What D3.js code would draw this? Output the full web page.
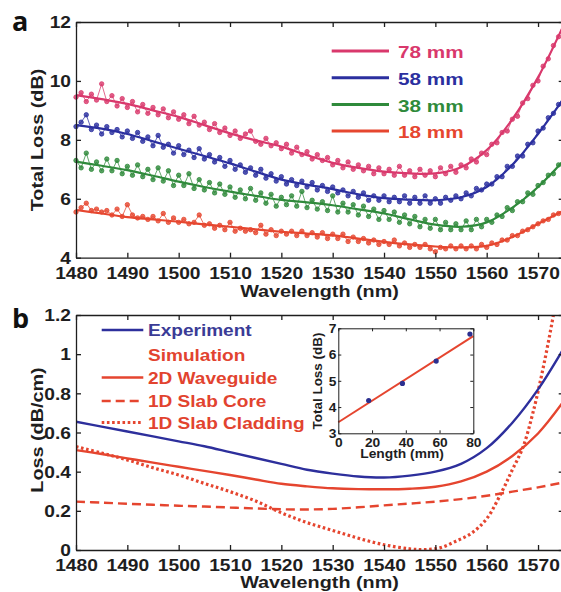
<!DOCTYPE html>
<html>
<head>
<meta charset="utf-8">
<script src="https://cdn.jsdelivr.net/npm/d3@7"></script>
<style>
  html, body { margin: 0; padding: 0; background: #fff; }
  svg { display: block; }
</style>
</head>
<body>
<svg id="fig" width="561" height="592"></svg>
<script>
// ---------- panel a: measured total loss spectra (1 nm steps, 1480-1575 nm) ----------
const wavelengths = d3.range(1480, 1576, 1);
const seriesNames = ["78 mm", "58 mm", "38 mm", "18 mm"];
const seriesColors = ["#d9386c", "#2b2f9f", "#2f8a3b", "#e6462f"];

const loss78 = [
  9.45, 9.6, 9.3, 9.55, 9.35, 9.9, 9.3, 9.5, 9.15, 9.4,
  9.1, 9.3, 8.95, 9.2, 8.9, 9.1, 8.85, 9.05, 8.75, 8.95,
  8.7, 8.85, 8.55, 8.8, 8.5, 8.6, 8.35, 8.55, 8.25, 8.4,
  8.15, 8.3, 8.05, 8.2, 8.3, 7.95, 7.85, 8.05, 7.8, 7.9,
  7.7, 7.85, 7.55, 7.75, 7.5, 7.6, 7.35, 7.5, 7.3, 7.4,
  7.15, 7.3, 7.05, 7.25, 7.0, 7.15, 6.95, 7.1, 6.85, 7.05,
  6.85, 7.0, 6.8, 7.1, 6.8, 6.95, 6.75, 7.0, 6.8, 6.95,
  6.75, 7.05, 6.85, 7.1, 6.9, 7.15, 7.05, 7.35, 7.25, 7.55,
  7.5, 7.85, 7.9, 8.25, 8.3, 8.7, 8.8, 9.25, 9.4, 9.85,
  10.0, 10.5, 10.75, 11.2, 11.5, 11.95
];
const loss58 = [
  8.45, 8.6, 8.85, 8.35, 8.5, 8.2, 8.45, 8.25, 8.35, 8.1,
  8.3, 8.05, 8.25, 7.95, 8.1, 7.8, 8.15, 7.75, 7.85, 7.55,
  7.8, 7.5, 7.65, 7.4, 7.7, 7.35, 7.5, 7.25, 7.4, 7.1,
  7.3, 7.0, 7.15, 6.9, 7.05, 6.8, 7.0, 6.7, 6.85, 6.6,
  6.75, 6.5, 6.65, 6.45, 6.6, 6.4, 6.55, 6.3, 6.45, 6.25,
  6.4, 6.2, 6.3, 6.1, 6.25, 6.05, 6.2, 5.95, 6.1, 5.95,
  6.1, 5.9, 6.05, 5.9, 6.1, 5.85, 6.05, 5.85, 6.1, 5.85,
  6.0, 5.85, 6.05, 5.95, 6.1, 6.0, 6.2, 6.1, 6.35, 6.3,
  6.5, 6.5, 6.75, 6.75, 7.1, 7.1, 7.45, 7.45, 7.85, 7.9,
  8.3, 8.4, 8.75, 8.9, 9.2, 9.45
];
const loss38 = [
  7.3, 7.05, 7.55, 7.0, 7.25, 6.95, 7.35, 6.95, 7.3, 6.85,
  7.1, 6.8, 7.15, 6.75, 7.0, 6.65, 7.05, 6.6, 6.95, 6.45,
  6.8, 6.45, 6.85, 6.35, 6.65, 6.3, 6.55, 6.2, 6.5, 6.15,
  6.4, 6.05, 6.3, 6.0, 6.35, 5.95, 6.2, 5.85, 6.15, 5.75,
  6.05, 5.8, 6.1, 5.75, 6.25, 5.7, 5.95, 5.65, 5.9, 5.6,
  6.1, 5.55, 5.85, 5.55, 5.8, 5.45, 5.75, 5.4, 5.65, 5.3,
  5.6, 5.3, 5.55, 5.2, 5.45, 5.15, 5.4, 5.05, 5.3, 5.0,
  5.3, 4.95, 5.2, 4.95, 5.15, 4.95, 5.25, 4.95, 5.3, 5.05,
  5.3, 5.2, 5.45, 5.4, 5.7, 5.6, 5.9, 5.9, 6.2, 6.15,
  6.45, 6.55, 6.8, 6.85, 7.15, 7.3
];
const loss18 = [
  5.55, 5.7, 5.85, 5.6, 5.65, 5.55, 5.6, 5.45, 5.65, 5.4,
  5.8, 5.45, 5.35, 5.4, 5.3, 5.4, 5.25, 5.5, 5.2, 5.35,
  5.2, 5.3, 5.15, 5.2, 5.45, 5.1, 5.15, 5.0, 5.1, 4.95,
  5.2, 4.9, 5.0, 4.9, 4.95, 4.85, 5.1, 4.8, 4.95, 4.75,
  4.9, 4.8, 4.9, 4.75, 4.9, 4.75, 4.85, 4.7, 4.85, 4.65,
  4.8, 4.65, 4.8, 4.55, 4.7, 4.55, 4.65, 4.5, 4.6, 4.45,
  4.55, 4.45, 4.6, 4.4, 4.5, 4.35, 4.45, 4.35, 4.45, 4.3,
  4.2, 4.35, 4.3, 4.4, 4.3, 4.4, 4.3, 4.4, 4.3, 4.45,
  4.35, 4.5, 4.45, 4.6, 4.6, 4.75, 4.75, 4.9, 4.95, 5.05,
  5.15, 5.25, 5.3, 5.45, 5.5, 5.6
];

// smooth fits, sampled every 5 nm
const fitWavelengths = d3.range(1480, 1576, 5);
const fit78 = [9.52, 9.38, 9.22, 9.0, 8.78, 8.5, 8.22, 7.98, 7.77, 7.48, 7.22, 7.05, 6.92, 6.86, 6.86, 7.07, 7.65, 8.7, 10.12, 11.9];
const fit58 = [8.5, 8.38, 8.2, 7.95, 7.7, 7.45, 7.2, 6.92, 6.65, 6.48, 6.33, 6.15, 6.02, 5.97, 5.95, 6.05, 6.4, 7.15, 8.2, 9.4];
const fit38 = [7.26, 7.12, 6.97, 6.78, 6.58, 6.4, 6.24, 6.1, 5.96, 5.88, 5.78, 5.64, 5.5, 5.3, 5.12, 5.05, 5.2, 5.7, 6.4, 7.3];
const fit18 = [5.62, 5.5, 5.38, 5.3, 5.22, 5.13, 5.05, 4.96, 4.88, 4.82, 4.76, 4.65, 4.54, 4.45, 4.38, 4.35, 4.4, 4.7, 5.15, 5.6];

const xTicks = [1480, 1490, 1500, 1510, 1520, 1530, 1540, 1550, 1560, 1570];
const yTicksA = [4, 6, 8, 10, 12];

// ---------- panel b: propagation loss per cm ----------
const curveWavelengths = d3.range(1480, 1576, 5);
const experiment = [0.655, 0.63, 0.605, 0.58, 0.555, 0.53, 0.50, 0.47, 0.44, 0.41, 0.39, 0.375, 0.37, 0.38, 0.40, 0.44, 0.52, 0.65, 0.82, 1.03];
const waveguide2D = [0.51, 0.49, 0.468, 0.446, 0.425, 0.404, 0.383, 0.36, 0.338, 0.325, 0.315, 0.311, 0.31, 0.313, 0.323, 0.35, 0.40, 0.48, 0.595, 0.76];
const slabCore = [0.247, 0.242, 0.236, 0.231, 0.226, 0.222, 0.217, 0.212, 0.208, 0.207, 0.21, 0.218, 0.228, 0.237, 0.247, 0.26, 0.277, 0.298, 0.32, 0.345];
const claddingWavelengths = [1480, 1485, 1490, 1495, 1500, 1505, 1510, 1515, 1520, 1525, 1530, 1535, 1540, 1545, 1548, 1551, 1554, 1557, 1560, 1563, 1565, 1567, 1569, 1571, 1573, 1575];
const slabCladding = [0.528, 0.495, 0.46, 0.42, 0.383, 0.34, 0.298, 0.25, 0.19, 0.14, 0.10, 0.06, 0.027, 0.006, 0.002, 0.012, 0.045, 0.085, 0.16, 0.30, 0.41, 0.52, 0.70, 0.93, 1.2, 1.5];
const yTicksB = [0, 0.2, 0.4, 0.6, 0.8, 1, 1.2];

// inset: total loss versus waveguide length
const lengthsMm = [18, 38, 58, 78];
const lengthLoss = [4.25, 4.9, 5.75, 6.78];
const fitLengths = [0, 80];
const fitLengthLoss = [3.42, 6.7];
const insetXTicks = [0, 20, 40, 60, 80];
const insetYTicks = [3, 4, 5, 6, 7];

// ---------- drawing ----------
const svg = d3.select("#fig");
const FONT = "'Liberation Sans', Arial, Helvetica, sans-serif";
const SX = 1.2;          // wide lettering
const INK = "#1e1e1e";
const RED = "#e5452f";
const BLUE = "#2d2f9c";

function label(g, x, y, text, o = {}) {
  const size = o.size || 16, sx = o.sx || SX, rot = o.rot || 0;
  return g.append("text")
    .attr("transform", `translate(${x},${y}) rotate(${rot}) scale(${sx},1)`)
    .attr("text-anchor", o.anchor || "middle")
    .attr("font-family", o.family || FONT)
    .attr("font-weight", o.weight || "bold")
    .attr("font-size", size)
    .attr("fill", o.fill || INK)
    .text(text);
}

function styleAxis(g, width) {
  g.select(".domain").attr("stroke", INK).attr("stroke-width", width || 1.2);
  g.selectAll(".tick line").attr("stroke", INK).attr("stroke-width", width || 1.2);
}

function boxAxes(g, x, y, xt, yt, o) {
  const [x0, x1] = x.range(), [y0, y1] = y.range();
  const tk = o.tick, sz = o.size, sx = o.sx;
  const bottom = g.append("g").attr("transform", `translate(0,${y0})`)
    .call(d3.axisBottom(x).tickValues(xt).tickSizeInner(-tk).tickSizeOuter(0).tickFormat(o.xfmt || d3.format("d")));
  const top = g.append("g").attr("transform", `translate(0,${y1})`)
    .call(d3.axisTop(x).tickValues(xt).tickSizeInner(-tk).tickSizeOuter(0).tickFormat(""));
  const left = g.append("g").attr("transform", `translate(${x0},0)`)
    .call(d3.axisLeft(y).tickValues(yt).tickSizeInner(-tk).tickSizeOuter(0).tickFormat(o.yfmt || d3.format("d")));
  const right = g.append("g").attr("transform", `translate(${x1},0)`)
    .call(d3.axisRight(y).tickValues(yt).tickSizeInner(-tk).tickSizeOuter(0).tickFormat(""));
  [bottom, top, left, right].forEach(a => styleAxis(a, o.stroke));
  bottom.selectAll("text")
    .attr("y", o.xBase).attr("dy", 0)
    .attr("transform", `scale(${sx},1)`)
    .attr("font-family", FONT).attr("font-weight", "bold").attr("font-size", sz).attr("fill", INK);
  left.selectAll("text")
    .attr("x", 0).attr("dy", "0.36em")
    .attr("transform", `translate(${-o.yPad},0) scale(${sx},1)`)
    .attr("font-family", FONT).attr("font-weight", "bold").attr("font-size", sz).attr("fill", INK);
}

// ===== panel a =====
const xA = d3.scaleLinear().domain([1480, 1575]).range([76, 563.7]);
const yA = d3.scaleLinear().domain([4, 12]).range([257.7, 22]);
const gA = svg.append("g");

const measured = [loss78, loss58, loss38, loss18];
const fits = [fit78, fit58, fit38, fit18];

const rawLine = d3.line().x((d, i) => xA(wavelengths[i])).y(d => yA(d));
const fitLine = d3.line().x((d, i) => xA(fitWavelengths[i])).y(d => yA(d)).curve(d3.curveCatmullRom.alpha(0.5));

for (let s = measured.length - 1; s >= 0; s--) {
  const c = seriesColors[s];
  const gs = gA.append("g");
  gs.append("path").attr("d", rawLine(measured[s]))
    .attr("fill", "none").attr("stroke", c).attr("stroke-width", 0.9).attr("opacity", 0.85);
  gs.selectAll("circle").data(measured[s]).join("circle")
    .attr("cx", (d, i) => xA(wavelengths[i])).attr("cy", d => yA(d)).attr("r", 2.2)
    .attr("fill", c).attr("fill-opacity", 0.8).attr("stroke", c).attr("stroke-width", 0.8);
  gs.append("path").attr("d", fitLine(fits[s]))
    .attr("fill", "none").attr("stroke", c).attr("stroke-width", 2.2);
}

boxAxes(gA, xA, yA, xTicks, yTicksA, { tick: 5, size: 16, sx: SX, xBase: 21.5, yPad: 5, stroke: 1.3 });

label(gA, 319.5, 297, "Wavelength (nm)", { size: 16.5 });
label(gA, 43, 140, "Total Loss (dB)", { size: 16.5, rot: -90 });
label(gA, 12, 31, "a", { size: 27, sx: 1, anchor: "start", family: "'Open Sans', 'Noto Sans', sans-serif", weight: 700, fill: "#111" });

// legend a
const legA = gA.append("g");
seriesNames.forEach((name, i) => {
  const ly = 51 + i * 26.7;
  legA.append("line").attr("x1", 331.7).attr("x2", 389).attr("y1", ly).attr("y2", ly)
    .attr("stroke", seriesColors[i]).attr("stroke-width", 3);
  label(legA, 398, ly + 7.2, name, { size: 17, anchor: "start", fill: seriesColors[i], sx: 1.22 });
});

// ===== panel b =====
const xB = d3.scaleLinear().domain([1480, 1575]).range([76, 563.7]);
const yB = d3.scaleLinear().domain([0, 1.2]).range([550, 315]);
const gB = svg.append("g");

svg.append("defs").append("clipPath").attr("id", "clipB")
  .append("rect").attr("x", 76).attr("y", 315).attr("width", 487.7).attr("height", 235);

const curves = gB.append("g").attr("clip-path", "url(#clipB)");
const smooth = (wl) => d3.line().x((d, i) => xB(wl[i])).y(d => yB(d)).curve(d3.curveCatmullRom.alpha(0.5));

curves.append("path").attr("d", smooth(curveWavelengths)(slabCore))
  .attr("fill", "none").attr("stroke", RED).attr("stroke-width", 2.4).attr("stroke-dasharray", "9,5");
curves.append("path").attr("d", smooth(claddingWavelengths)(slabCladding))
  .attr("fill", "none").attr("stroke", RED).attr("stroke-width", 3.2).attr("stroke-dasharray", "2.6,2.6");
curves.append("path").attr("d", smooth(curveWavelengths)(waveguide2D))
  .attr("fill", "none").attr("stroke", RED).attr("stroke-width", 2.4);
curves.append("path").attr("d", smooth(curveWavelengths)(experiment))
  .attr("fill", "none").attr("stroke", BLUE).attr("stroke-width", 2.4);

boxAxes(gB, xB, yB, xTicks, yTicksB, {
  tick: 5, size: 16, sx: SX, xBase: 21.5, yPad: 5, stroke: 1.3,
  yfmt: d => (d === 0 || d === 1) ? String(d) : d3.format(".1f")(d)
});

label(gB, 319.5, 588, "Wavelength (nm)", { size: 16.5 });
label(gB, 43, 430, "Loss (dB/cm)", { size: 16.5, rot: -90 });
label(gB, 12, 328, "b", { size: 27, sx: 1, anchor: "start", family: "'Open Sans', 'Noto Sans', sans-serif", weight: 700, fill: "#111" });

// legend b
const legB = gB.append("g");
const legendB = [
  { name: "Experiment", color: BLUE, dash: null, width: 2.6, y: 330 },
  { name: "Simulation", color: RED, dash: "none", width: 0, y: 354.5 },
  { name: "2D Waveguide", color: RED, dash: null, width: 2.6, y: 377.5 },
  { name: "1D Slab Core", color: RED, dash: "9,5", width: 2.6, y: 401 },
  { name: "1D Slab Cladding", color: RED, dash: "2.6,2.6", width: 3.2, y: 422.5 }
];
legendB.forEach(d => {
  if (d.width > 0) {
    legB.append("line").attr("x1", 101.7).attr("x2", 143.3).attr("y1", d.y).attr("y2", d.y)
      .attr("stroke", d.color).attr("stroke-width", d.width)
      .attr("stroke-dasharray", d.dash);
  }
  label(legB, 148, d.y + 6, d.name, { size: 16, anchor: "start", fill: d.color === BLUE ? "#3a3b96" : "#e2432f", sx: 1.19 });
});

// ===== inset =====
const xI = d3.scaleLinear().domain([0, 80]).range([338.3, 473.3]);
const yI = d3.scaleLinear().domain([3, 7]).range([433.3, 328.3]);
const gI = svg.append("g");
gI.append("rect").attr("x", 338.3).attr("y", 328.3).attr("width", 135).attr("height", 105).attr("fill", "#fff");

gI.append("path")
  .attr("d", d3.line().x((d, i) => xI(fitLengths[i])).y(d => yI(d))(fitLengthLoss))
  .attr("fill", "none").attr("stroke", RED).attr("stroke-width", 2);
gI.selectAll("circle.pt").data(lengthLoss).join("circle").attr("class", "pt")
  .attr("cx", (d, i) => xI(lengthsMm[i])).attr("cy", d => yI(d)).attr("r", 2.6)
  .attr("fill", "#2b2f8f");

boxAxes(gI, xI, yI, insetXTicks, insetYTicks, { tick: 3, size: 12, sx: 1.15, xBase: 14, yPad: 2, stroke: 1 });
label(gI, 402, 458, "Length (mm)", { size: 12, sx: 1.15 });
label(gI, 322, 381, "Total Loss (dB)", { size: 12, sx: 1.12, rot: -90 });
</script>
</body>
</html>
